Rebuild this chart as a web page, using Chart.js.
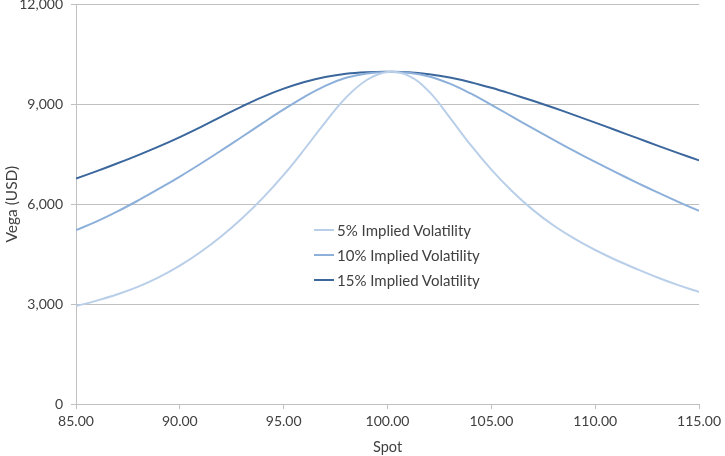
<!DOCTYPE html>
<html>
<head>
<meta charset="utf-8">
<script src="https://cdn.jsdelivr.net/npm/chart.js@4/dist/chart.umd.min.js"></script>
<style>
  html, body { margin: 0; padding: 0; background: #fff; }
  #wrap { position: relative; width: 725px; height: 456px; overflow: hidden; }
  #c { position: absolute; left: 0; top: -12px; }
  #legend { position: absolute; left: 314px; top: 217px; font-family: Lato, "Open Sans", sans-serif; font-size: 15px; color: #404040; }
  .row { height: 25px; display: flex; align-items: center; }
  .swatch { width: 20px; height: 2px; margin-right: 3px; }
</style>
</head>
<body>
<div id="wrap">
  <canvas id="c" width="725" height="468"></canvas>
  <div id="legend"></div>
</div>
<script>
const spots = [85,86,87,88,89,90,91,92,93,94,95,96,97,98,99,100,101,102,103,104,105,106,107,108,109,110,111,112,113,114,115];
const seriesLabels = ["5% Implied Volatility", "10% Implied Volatility", "15% Implied Volatility"];
const vol5 =  [2940,3105,3295,3525,3810,4155,4565,5040,5580,6190,6880,7650,8460,9200,9730,9970,9860,9380,8600,7780,7040,6390,5830,5360,4965,4625,4325,4055,3800,3570,3365];
const vol10 = [5220,5485,5785,6115,6465,6830,7215,7615,8025,8440,8845,9225,9555,9795,9925,9970,9945,9835,9620,9325,8985,8630,8275,7930,7595,7270,6955,6650,6355,6070,5800];
const vol15 = [6770,6995,7230,7475,7735,8015,8315,8630,8940,9225,9470,9670,9820,9920,9965,9975,9965,9905,9805,9665,9495,9305,9105,8895,8675,8450,8220,7990,7760,7535,7315];
const yTicks = [0,3000,6000,9000,12000];
const xTicks = [85,90,95,100,105,110,115];
const colors = ["#b9cfe9", "#8db0da", "#3b679d"];

const toPts = arr => spots.map((s, i) => ({x: s, y: arr[i]}));
const seriesData = [vol5, vol10, vol15];

const font = { family: "Lato, 'Open Sans', sans-serif", size: 14 };
const titleFontY = { family: "Lato, 'Open Sans', sans-serif", size: 15.5 };
const titleFontX = { family: "Lato, 'Open Sans', sans-serif", size: 14.5 };
const gridColor = "#c0c0c0";

new Chart(document.getElementById("c"), {
  type: "line",
  data: {
    datasets: seriesData.map((d, i) => ({
      label: seriesLabels[i],
      data: toPts(d),
      borderColor: colors[i],
      backgroundColor: colors[i],
      borderWidth: 2,
      pointRadius: 0,
      tension: 0.4,
      fill: false
    }))
  },
  options: {
    responsive: false,
    animation: false,
    layout: { padding: { left: 3, right: 0, top: 0, bottom: 0 } },
    plugins: { legend: { display: false }, tooltip: { enabled: false } },
    scales: {
      x: {
        type: "linear",
        min: 85, max: 115,
        afterBuildTicks: s => { s.ticks = xTicks.map(v => ({value: v})); },
        ticks: { callback: v => Number(v).toFixed(2), color: "#404040", font: font, maxRotation: 0, padding: 4 },
        grid: { drawOnChartArea: false, drawTicks: true, tickLength: 5, color: gridColor },
        border: { color: gridColor, width: 1 },
        title: { display: true, text: "Spot", color: "#404040", font: titleFontX, padding: { top: 0, bottom: 0 } },
        afterFit: s => { s.height = 52; }
      },
      y: {
        min: 0, max: 12000,
        afterBuildTicks: s => { s.ticks = yTicks.map(v => ({value: v})); },
        ticks: { callback: v => Number(v).toLocaleString("en-US"), color: "#404040", font: font, padding: 8 },
        grid: { drawTicks: true, tickLength: 5, color: gridColor },
        border: { color: gridColor, width: 1 },
        title: { display: true, text: "Vega (USD)", color: "#404040", font: titleFontY, padding: { top: 0, bottom: 0 } },
        afterFit: s => { s.width = 73; }
      }
    }
  }
});

const leg = document.getElementById("legend");
seriesLabels.forEach((lab, i) => {
  const row = document.createElement("div");
  row.className = "row";
  const sw = document.createElement("div");
  sw.className = "swatch";
  sw.style.background = colors[i];
  const t = document.createElement("span");
  t.textContent = lab;
  row.appendChild(sw);
  row.appendChild(t);
  leg.appendChild(row);
});
</script>
</body>
</html>
